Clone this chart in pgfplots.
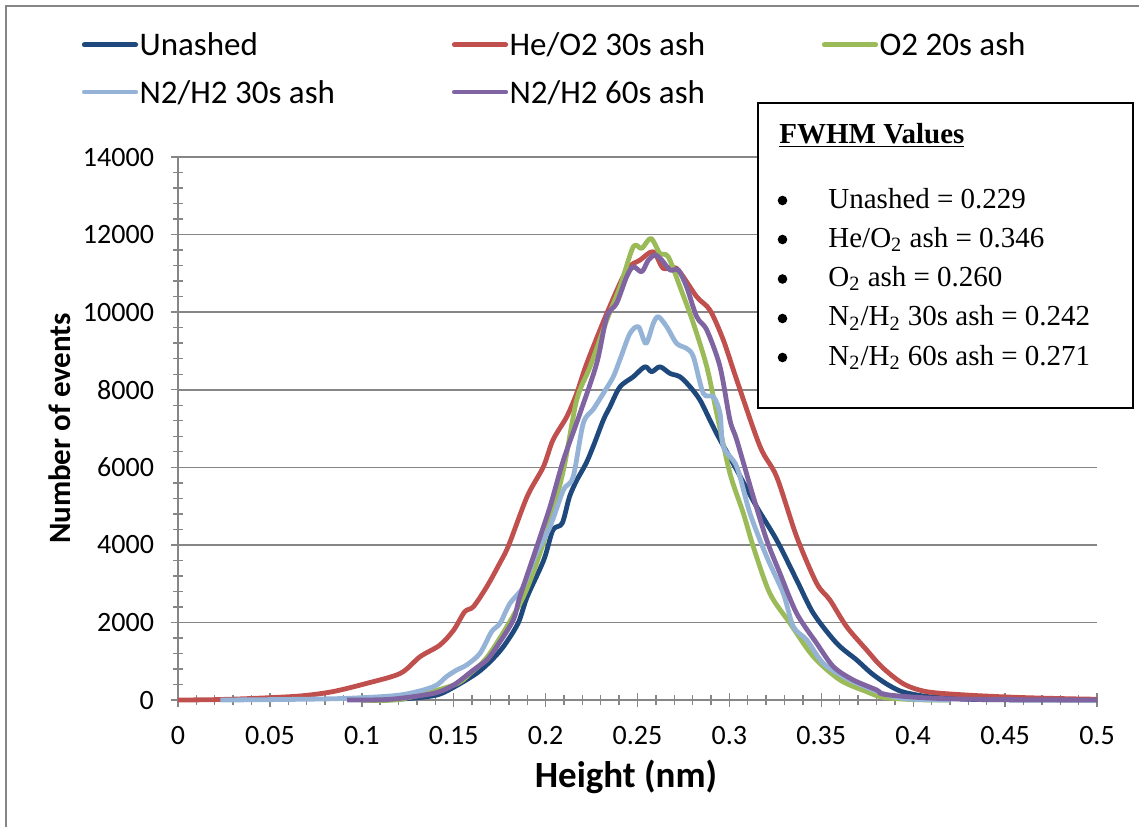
\documentclass[border=0pt]{standalone}
\usepackage{fontspec}
\setmainfont{Carlito}
\newfontfamily\tnr{Liberation Serif}
\usepackage{pgfplots}
\pgfplotsset{compat=1.18}

\definecolor{unashed}{RGB}{31,73,125}
\definecolor{heo}{RGB}{192,80,77}
\definecolor{oxy}{RGB}{155,187,89}
\definecolor{nhA}{RGB}{149,179,215}
\definecolor{nhB}{RGB}{128,100,162}
\definecolor{gridgray}{RGB}{134,134,134}

\begin{document}
\begin{tikzpicture}
\useasboundingbox (0,0) rectangle (569.5pt,-413.5pt);
% chart area border (left and top visible)
\draw[gridgray, line width=1pt] (3pt,-413.5pt) -- (3pt,-3pt) -- (569.5pt,-3pt);

\begin{axis}[
    at={(89pt,-350pt)}, anchor=south west,
    scale only axis,
    width=459.5pt, height=271.5pt,
    xmin=0, xmax=0.5,
    ymin=0, ymax=14000,
    axis x line*=bottom, axis y line*=left,
    xtick={0,0.05,0.1,0.15,0.2,0.25,0.3,0.35,0.4,0.45,0.5},
    ytick={0,2000,4000,6000,8000,10000,12000,14000},
    minor x tick num=4,
    minor y tick num=4,
    scaled x ticks=false, scaled y ticks=false,
    xticklabel style={/pgf/number format/fixed, /pgf/number format/precision=2, yshift=-6pt},
    yticklabel style={/pgf/number format/1000 sep={}, xshift=-5pt},
    /pgf/number format/assume math mode=true,
    tick label style={font=\fontsize{14}{16}\selectfont},
    tick align=center,
    major tick length=7pt, minor tick length=5pt,
    tick style={color=gridgray, line width=0.7pt},
    axis line style={gridgray, line width=0.8pt, -},
    ymajorgrids,
    grid style={gridgray, line width=0.8pt},
    xlabel={\textbf{Height (nm)}},
    ylabel={\textbf{Number of events}},
    xlabel style={font=\fontsize{18.5}{20}\selectfont, at={(axis description cs:0.4875,-0.1418)}, anchor=center},
    ylabel style={font=\fontsize{15.5}{17}\selectfont, at={(axis description cs:-0.1284,0.5)}, anchor=center},
    legend columns=3,
    legend style={at={(axis description cs:-0.105,1.236)}, anchor=north west,
        draw=none, fill=none, inner sep=0pt,
        nodes={inner sep=0.75pt},
        font=\fontsize{16.5}{18}\selectfont,
        /tikz/every even column/.append style={column sep=0pt},
        row sep=8pt},
    legend image code/.code={\draw[#1, line width=2.4pt, line cap=round] (1.2pt,0pt) -- (26.9pt,0pt);},
    legend cell align=left,
    every axis plot/.append style={line width=2.4pt, smooth, line join=round},
    clip=false,
]

\addplot[color=unashed] coordinates {
 (0.10,0) (0.12,20) (0.14,120) (0.15,330) (0.1625,690) (0.17,1000) (0.177,1374) (0.185,1977)
 (0.19,2663) (0.199,3609) (0.204,4383) (0.209,4555) (0.213,5241) (0.217,5671) (0.222,6100)
 (0.226,6550) (0.2314,7218) (0.235,7560) (0.2405,8076) (0.2477,8334) (0.254,8592) (0.2577,8463)
 (0.2622,8592) (0.2677,8420) (0.2731,8334) (0.2786,8076) (0.284,7734) (0.2894,7218) (0.293,6875)
 (0.2985,6400) (0.304,5929) (0.3148,4983) (0.3257,4125) (0.3366,3094) (0.3457,2234) (0.3584,1462)
 (0.3693,1031) (0.377,700) (0.385,430) (0.393,230) (0.402,130) (0.411,75) (0.43,20) (0.45,5) (0.5,0)
};
\addlegendentry{\makebox[155.4pt][l]{Unashed\strut}}

\addplot[color=heo] coordinates {
 (0,0) (0.02,10) (0.04,40) (0.066,103) (0.084,215) (0.1027,430) (0.121,688) (0.1317,1117)
 (0.1425,1418) (0.15,1805) (0.156,2277) (0.1607,2406) (0.168,2921) (0.175,3522) (0.18,4000)
 (0.19,5250) (0.1988,6015) (0.204,6703) (0.2115,7304) (0.2169,7906) (0.2224,8678) (0.2333,9968) (0.2441,11085)
 (0.2514,11343) (0.2586,11558) (0.264,11128) (0.2713,11128) (0.2822,10398) (0.2894,10054)
 (0.2967,9281) (0.304,8250) (0.3167,6531) (0.3257,5757) (0.3366,4210) (0.3475,3008) (0.3547,2578)
 (0.3638,1890) (0.3747,1289) (0.383,850) (0.3946,420) (0.4073,215) (0.429,129) (0.456,69)
 (0.4835,34) (0.5,20)
};
\addlegendentry{\makebox[155.4pt][l]{He/O2 30s ash\strut}}

\addplot[color=oxy] coordinates {
 (0.10,0) (0.121,18) (0.15,387) (0.159,688) (0.1697,1203) (0.1879,2663) (0.2005,4297)
 (0.2097,5929) (0.2169,7734) (0.2242,8592) (0.2333,9796) (0.2405,10656) (0.2477,11687)
 (0.2523,11644) (0.2573,11902) (0.2622,11515) (0.2667,11429) (0.2731,10656) (0.2804,9710)
 (0.2877,8592) (0.2931,7390) (0.3003,5843) (0.3076,4812) (0.313,3952) (0.322,2750) (0.333,1977)
 (0.3457,1117) (0.3602,516) (0.3747,215) (0.3837,69) (0.40,10) (0.42,0)
};
\addlegendentry{\makebox[155.4pt][l]{O2 20s ash\strut}}

\addplot[color=nhA] coordinates {
 (0.023,0) (0.06,15) (0.0918,43) (0.1208,129) (0.139,344) (0.146,601) (0.1516,773) (0.157,902)
 (0.1643,1203) (0.1706,1761) (0.1752,1977) (0.1806,2492) (0.1879,2921) (0.195,3781) (0.2024,4468)
 (0.2097,5414) (0.215,5757) (0.2205,7134) (0.226,7500) (0.2314,7906) (0.2368,8334) (0.2414,8900)
 (0.2459,9452) (0.2505,9624) (0.2546,9194) (0.2586,9710) (0.2613,9882) (0.2659,9624) (0.2713,9194)
 (0.2767,9065) (0.2804,8850) (0.2858,7906) (0.2913,7820) (0.2949,7390) (0.2967,6531) (0.304,6015)
 (0.3112,4812) (0.3203,3694) (0.3293,2750) (0.3348,1890) (0.3421,1547) (0.3511,946) (0.3638,559)
 (0.3784,258) (0.39,80) (0.40,20) (0.42,0)
};
\addlegendentry{\makebox[155.4pt][l]{N2/H2 30s ash\strut}}

\addplot[color=nhB] coordinates {
 (0.092,0) (0.1153,18) (0.139,172) (0.15,387) (0.1607,773) (0.168,1031) (0.1734,1374)
 (0.1824,2062) (0.186,2663) (0.1952,3952) (0.2024,4983) (0.2097,6187) (0.2187,7390) (0.2278,8678)
 (0.2333,9882) (0.2386,10226) (0.2441,10914) (0.2477,11171) (0.2523,11042) (0.2559,11343)
 (0.2596,11472) (0.2632,11343) (0.2677,11085) (0.2722,11085) (0.2767,10656) (0.2822,9882)
 (0.2877,9538) (0.2949,8592) (0.3003,7218) (0.304,6703) (0.313,5241) (0.3203,4125) (0.3275,3266)
 (0.3366,2234) (0.3475,1462) (0.3566,859) (0.3674,516) (0.3802,258) (0.3837,150) (0.402,69)
 (0.43,20) (0.5,0)
};
\addlegendentry{\makebox[155.4pt][l]{N2/H2 60s ash\strut}}

\end{axis}

% FWHM text box
\draw[black, line width=1pt, fill=white] (379pt,-51.5pt) rectangle (566.5pt,-204pt);
\begin{scope}[every node/.style={inner sep=0pt, font=\tnr\fontsize{14.5}{17}\selectfont}]
\node[anchor=base west] at (389.5pt,-71.5pt) {\underline{\textbf{FWHM Values}}};
\foreach \yy in {100.25,119.75,139.5,159.25,178.75} {
  \fill[black] (391.25pt,-\yy pt) circle (2.4pt);
}
\node[anchor=base west] at (414pt,-104pt) {Unashed = 0.229};
\node[anchor=base west] at (414pt,-123.6pt) {He/O\textsubscript{2} ash = 0.346};
\node[anchor=base west] at (414pt,-143.3pt) {O\textsubscript{2} ash = 0.260};
\node[anchor=base west] at (414pt,-162.9pt) {N\textsubscript{2}/H\textsubscript{2} 30s ash = 0.242};
\node[anchor=base west] at (414pt,-182.5pt) {N\textsubscript{2}/H\textsubscript{2} 60s ash = 0.271};
\end{scope}
\end{tikzpicture}
\end{document}
